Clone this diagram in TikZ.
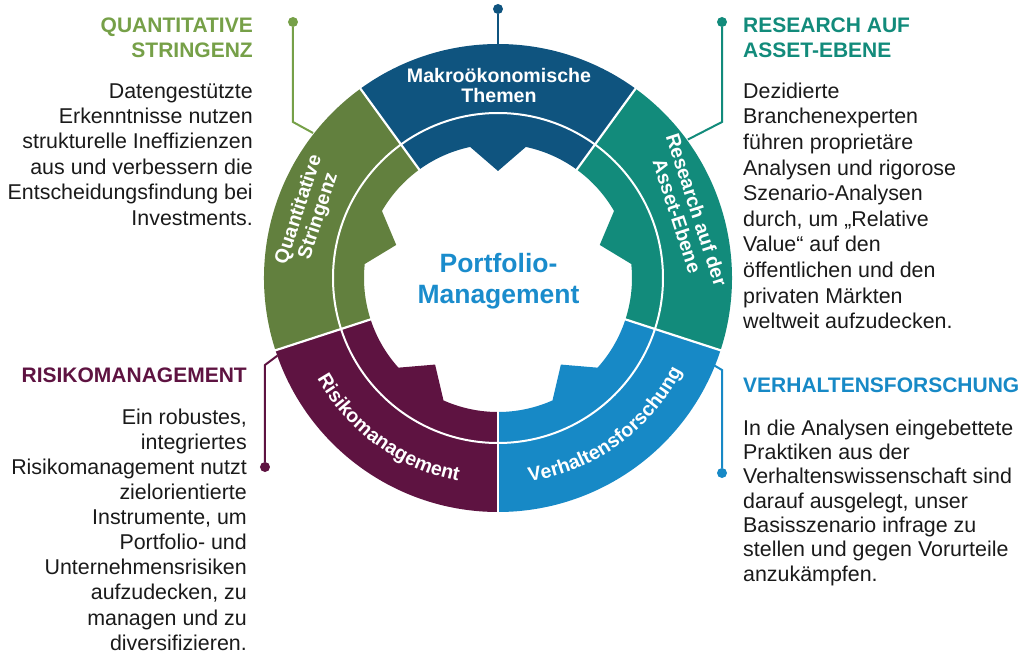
\documentclass[tikz,border=0pt]{standalone}
\usepackage{fontspec}
\setmainfont{Liberation Sans}
\usetikzlibrary{decorations.text}
\definecolor{cMakro}{HTML}{0F547F}
\definecolor{cQuant}{HTML}{62803E}
\definecolor{cQuantL}{HTML}{76A048}
\definecolor{cRes}{HTML}{128B7B}
\definecolor{cVerh}{HTML}{1789C6}
\definecolor{cRisk}{HTML}{5E1341}
\definecolor{cBody}{HTML}{1A1A1A}
\definecolor{cCenter}{HTML}{1A8CCC}
\begin{document}
\begin{tikzpicture}[x=1pt,y=1pt,
  conn/.style={line width=2},
  dotnode/.style={circle,fill=#1,inner sep=0,minimum size=10},
  titletext/.style={font=\bfseries\fontsize{21}{25}\selectfont,inner sep=0},
  bodytext/.style={font=\fontsize{21.4}{#1}\selectfont,inner sep=0,text=cBody},
  seglabel/.style={font=\bfseries\fontsize{19.6}{20.5}\selectfont,inner sep=0,text=white,align=center}]
\useasboundingbox (-498,-378) rectangle (527,278);
% ring segments
\foreach \c/\col in {90/cMakro,162/cQuant,234/cRisk,306/cVerh,18/cRes}{
  \fill[\col] ({\c-36}:234) arc[start angle={\c-36}, end angle={\c+36}, radius=234]
    -- ({\c+36}:134) arc[start angle={\c+36}, end angle={\c+12}, radius=134]
    -- (\c:107) -- ({\c-12}:134) arc[start angle={\c-12}, end angle={\c-36}, radius=134] -- cycle;
}
\draw[white,line width=2] (0,0) circle[radius=165];
\foreach \a in {54,126,198,270,342}{
  \draw[white,line width=2.2] (\a:128) -- (\a:238);
}
% segment labels
\node[seglabel,anchor=north] (lmakro) at (1,210.5) {\strut Makroökonomische\\Themen};
\node[seglabel,rotate=72] (lquant) at (161:199) {\strut Quantitative\\\strut Stringenz};
\node[seglabel,rotate=-72] (lres) at (19:197) {\strut Research auf der\\\strut Asset-Ebene};
\path[decorate,decoration={text along path,text align=center,text color=white,
  text={|\bfseries\fontsize{19.6}{20}\selectfont|Risikomanagement}}]
  (198:207) arc[start angle=198, end angle=270, radius=207];
\path[decorate,decoration={text along path,text align=center,text color=white,
  text={|\bfseries\fontsize{19.6}{20}\selectfont|Verhaltensforschung}}]
  (270:206) arc[start angle=270, end angle=342, radius=206];
% centre
\node[font=\bfseries\fontsize{26.5}{31.5}\selectfont,text=cCenter,align=center,inner sep=0,anchor=north] (centre) at (0.5,28.05) {\strut Portfolio-\\Management};
% connectors
\coordinate (mkA) at (90:234);
\node[dotnode=cMakro] (mkD) at (0,269) {};
\draw[conn,cMakro] (mkD) -- (mkA);
\coordinate (qA) at (141.9:235);
\coordinate (qC) at (-205,156);
\node[dotnode=cQuantL] (qD) at (-205,256) {};
\draw[conn,cQuantL] (qD) -- (qC) -- (qA);
\coordinate (rA) at (36.1:235);
\coordinate (rC) at (224,156);
\node[dotnode=cRes] (rD) at (224,256) {};
\draw[conn,cRes] (rD) -- (rC) -- (rA);
\coordinate (kA) at (199.4:234);
\coordinate (kC) at (-233,-87);
\node[dotnode=cRisk] (kD) at (-233,-189) {};
\draw[conn,cRisk] (kD) -- (kC) -- (kA);
\coordinate (vA) at (338:233);
\coordinate (vC) at (224,-92);
\node[dotnode=cVerh] (vD) at (224,-195) {};
\draw[conn,cVerh] (vD) -- (vC) -- (vA);
% text blocks
\node[titletext,text=cQuantL,align=right,anchor=north east] (tq) at (-245,263.5) {\strut QUANTITATIVE\\STRINGENZ};
\node[bodytext=25.4,align=right,anchor=north east] (bq) at (-245,197.78) {\strut Datengestützte\\Erkenntnisse nutzen\\strukturelle Ineffizienzen\\aus und verbessern die\\Entscheidungsfindung bei\\Investments.};
\node[titletext,text=cRes,align=left,anchor=north west] (tr) at (245,263.5) {\strut RESEARCH AUF\\ASSET-EBENE};
\node[bodytext=25.6,align=left,anchor=north west] (br) at (245,197.92) {\strut Dezidierte\\Branchenexperten\\führen proprietäre\\Analysen und rigorose\\Szenario-Analysen\\durch, um „Relative\\Value“ auf den\\öffentlichen und den\\privaten Märkten\\weltweit aufzudecken.};
\node[titletext,text=cRisk,align=right,anchor=north east] (tk) at (-251,-86.5) {\strut RISIKOMANAGEMENT};
\node[bodytext=25.1,align=right,anchor=north east] (bk) at (-251,-128.43) {\strut Ein robustes,\\integriertes\\Risikomanagement nutzt\\zielorientierte\\Instrumente, um\\Portfolio- und\\Unternehmensrisiken\\aufzudecken, zu\\managen und zu\\diversifizieren.};
\node[titletext,text=cVerh,align=left,anchor=north west] (tv) at (245,-96.5) {\strut VERHALTENSFORSCHUNG};
\node[bodytext=24.3,align=left,anchor=north west] (bv) at (245,-139.99) {\strut In die Analysen eingebettete\\Praktiken aus der\\Verhaltenswissenschaft sind\\darauf ausgelegt, unser\\Basisszenario infrage zu\\stellen und gegen Vorurteile\\anzukämpfen.};
\end{tikzpicture}
\end{document}
